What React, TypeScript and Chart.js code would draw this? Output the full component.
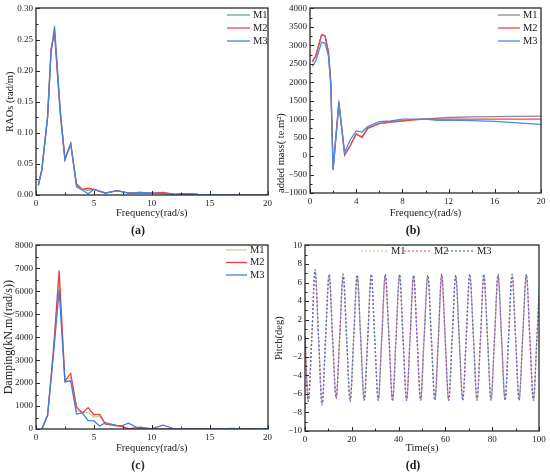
import { useEffect, useRef } from 'react';
import { Chart, ChartConfiguration, registerables } from 'chart.js';

Chart.register(...registerables);

const SERIF = '"Liberation Serif", "Times New Roman", serif';
const INK = '#222';

// (a) RAOs
const freqA = [0.2, 0.5, 1.0, 1.3, 1.6, 2.1, 2.5, 3.0, 3.5, 4.0, 4.5, 5.0, 6.0, 7.0, 8.0, 9.0, 10.0, 11.0, 12.0, 13.0, 14.0, 15.0, 16.0, 17.0, 18.0, 19.0, 20.0];
const raoM1 = [0.016, 0.04, 0.125, 0.232, 0.265, 0.132, 0.058, 0.082, 0.016, 0.009, 0.008, 0.009, 0.003, 0.007, 0.003, 0.004, 0.003, 0.003, 0.001, 0.002, 0.001, 0.0005, 0.0005, 0.0003, 0.0003, 0.0002, 0.0002];
const raoM2 = [0.016, 0.04, 0.125, 0.235, 0.26, 0.13, 0.057, 0.082, 0.018, 0.009, 0.011, 0.009, 0.003, 0.007, 0.003, 0.003, 0.003, 0.004, 0.001, 0.002, 0.001, 0.0005, 0.0005, 0.0003, 0.0003, 0.0002, 0.0002];
const raoM3 = [0.015, 0.04, 0.125, 0.228, 0.271, 0.135, 0.057, 0.083, 0.013, 0.008, 0.002, 0.009, 0.003, 0.007, 0.003, 0.004, 0.003, 0.002, 0.001, 0.002, 0.001, 0.0005, 0.0005, 0.0003, 0.0003, 0.0002, 0.0002];

// (b) added mass
const freqB = [0.2, 0.5, 1.0, 1.3, 1.6, 1.8, 2.0, 2.5, 3.0, 3.5, 4.0, 4.5, 5.0, 6.0, 7.0, 8.0, 9.0, 10.0, 11.0, 12.0, 14.0, 16.0, 18.0, 20.0];
const massM1 = [2550, 2700, 3280, 3250, 2800, 2000, -350, 1450, 30, 300, 600, 520, 760, 880, 930, 960, 990, 1010, 1030, 1045, 1060, 1070, 1075, 1080];
const massM2 = [2560, 2720, 3290, 3260, 2820, 2000, -360, 1480, 30, 290, 600, 500, 750, 880, 920, 950, 980, 1000, 1000, 1000, 1000, 1000, 1000, 1000];
const massM3 = [2430, 2580, 3080, 3060, 2700, 1900, -380, 1400, 100, 450, 680, 650, 800, 930, 950, 1000, 1000, 1000, 970, 975, 960, 940, 900, 860];

// (c) damping
const freqC = [0.5, 1.0, 1.5, 2.0, 2.5, 3.0, 3.5, 4.0, 4.5, 5.0, 5.5, 6.0, 7.0, 7.5, 8.0, 9.0, 10.0, 11.0, 12.0, 13.0, 14.0, 15.0, 16.0, 17.0, 18.0, 19.0, 20.0];
const dampM1 = [0, 600, 3300, 6500, 2080, 2250, 820, 720, 720, 520, 560, 220, 130, 90, 20, 50, 0, 20, 0, 0, 0, 0, 0, 0, 0, 0, 0];
const dampM2 = [0, 600, 3400, 6900, 2100, 2420, 960, 700, 930, 620, 640, 210, 150, 100, 10, 80, 0, 0, 0, 0, 0, 0, 0, 0, 0, 0, 0];
const dampM3 = [0, 600, 3200, 6050, 2050, 2100, 650, 700, 380, 350, 130, 280, 150, 160, 250, 0, 20, 170, 0, 0, 0, 0, 0, 25, 5, 5, 20];

// (d) pitch time history: start, then trough / zero / peak / zero per cycle
const timeD = [
  0, 1.4, 2.9, 4.3, 5.8,
  7.3, 8.8, 10.3, 11.8,
  13.3, 14.8, 16.3, 17.8,
  19.3, 20.8, 22.3, 23.8,
  25.3, 26.8, 28.3, 29.8,
  31.3, 32.8, 34.3, 35.9,
  37.4, 38.9, 40.4, 41.9,
  43.4, 44.9, 46.4, 47.9,
  49.4, 50.9, 52.5, 54.0,
  55.5, 57.0, 58.4, 59.9,
  61.4, 62.9, 64.4, 65.9,
  67.4, 68.9, 70.4, 72.0,
  73.5, 75.0, 76.4, 78.0,
  79.5, 81.0, 82.5, 84.0,
  85.5, 87.0, 88.5, 90.0,
  91.5, 93.0, 94.6, 96.1,
  97.6, 99.1, 100,
];
const pitchM1 = [
  0.2, -6.8, 0, 7.3, 0,
  -7.1, 0, 6.8, 0,
  -6.4, 0, 6.8, 0,
  -6.7, 0, 6.7, 0,
  -6.6, 0, 6.8, 0,
  -6.6, 0, 6.8, 0,
  -6.7, 0, 6.8, 0,
  -6.6, 0, 6.7, 0,
  -6.6, 0, 6.7, 0,
  -6.6, 0, 6.8, 0,
  -6.6, 0, 6.7, 0,
  -6.6, 0, 6.8, 0,
  -6.6, 0, 6.8, 0,
  -6.6, 0, 6.8, 0,
  -6.6, 0, 6.8, 0,
  -6.6, 0, 6.8, 0,
  -6.6, 0, 4.6,
];
const pitchM2 = [
  0.2, -6.7, 0, 7.2, 0,
  -7.0, 0, 6.7, 0,
  -6.4, 0, 6.7, 0,
  -6.6, 0, 6.7, 0,
  -6.6, 0, 6.7, 0,
  -6.6, 0, 6.7, 0,
  -6.6, 0, 6.7, 0,
  -6.6, 0, 6.7, 0,
  -6.6, 0, 6.7, 0,
  -6.6, 0, 6.7, 0,
  -6.6, 0, 6.7, 0,
  -6.6, 0, 6.7, 0,
  -6.6, 0, 6.7, 0,
  -6.6, 0, 6.7, 0,
  -6.6, 0, 6.7, 0,
  -6.6, 0, 6.7, 0,
  -6.6, 0, 4.5,
];
const pitchM3 = [
  0.3, -6.8, 0, 7.4, 0,
  -7.2, 0, 6.9, 0,
  -6.5, 0, 6.9, 0,
  -6.8, 0, 6.8, 0,
  -6.7, 0, 6.9, 0,
  -6.7, 0, 6.9, 0,
  -6.8, 0, 6.9, 0,
  -6.7, 0, 6.8, 0,
  -6.7, 0, 6.8, 0,
  -6.7, 0, 6.9, 0,
  -6.7, 0, 6.8, 0,
  -6.7, 0, 6.9, 0,
  -6.7, 0, 6.9, 0,
  -6.7, 0, 6.9, 0,
  -6.7, 0, 6.9, 0,
  -6.7, 0, 6.9, 0,
  -6.7, 0, 4.8,
];

const pts = (xs: number[], ys: number[]) => xs.map((x, i) => ({ x, y: ys[i] }));
const minus = (v: number) => (v < 0 ? '\u2212' + Math.abs(v) : String(v));

type Spec = {
  w: number;
  h: number;
  yWidth: number;
  xHeight: number;
  padTop: number;
  padRight: number;
  xMax: number;
  xStep: number;
  xTitle: string;
  xTitlePad: number;
  yMin: number;
  yMax: number;
  yStep: number;
  yTitle: string;
  yTitleSize: number;
  yTitlePad: number;
  yAlign: 'start' | 'center' | 'end';
  yFmt: (v: number) => string;
  series: { label: string; data: { x: number; y: number }[]; color: string }[];
  dotted?: boolean;
  legend: { x: number; y: number; len: number; step: number; row: boolean };
  tag: string;
  tagY: number;
};

// box, inward ticks, legend and panel letter
const frame = (s: Spec) => ({
  id: 'frame',
  afterDraw(chart: Chart) {
    const { ctx, chartArea: a } = chart;
    const xs = chart.scales.x;
    const ys = chart.scales.y;
    const L = Math.round(a.left);
    const R = Math.round(a.right);
    const T = Math.round(a.top);
    const B = Math.round(a.bottom);

    ctx.save();
    ctx.strokeStyle = '#2a2a2a';
    ctx.lineWidth = 1.3;
    ctx.strokeRect(L, T, R - L, B - T);

    ctx.lineWidth = 1;
    ctx.beginPath();
    const xv = xs.ticks.map((t) => t.value);
    xv.forEach((v, i) => {
      const p = Math.round(xs.getPixelForValue(v)) + 0.5;
      ctx.moveTo(p, B);
      ctx.lineTo(p, B - 4);
      if (i < xv.length - 1) {
        const m = Math.round(xs.getPixelForValue((v + xv[i + 1]) / 2)) + 0.5;
        ctx.moveTo(m, B);
        ctx.lineTo(m, B - 2.5);
      }
    });
    const yv = ys.ticks.map((t) => t.value);
    yv.forEach((v, i) => {
      const p = Math.round(ys.getPixelForValue(v)) + 0.5;
      ctx.moveTo(L, p);
      ctx.lineTo(L + 4, p);
      if (i < yv.length - 1) {
        const m = Math.round(ys.getPixelForValue((v + yv[i + 1]) / 2)) + 0.5;
        ctx.moveTo(L, m);
        ctx.lineTo(L + 2.5, m);
      }
    });
    ctx.stroke();

    const lg = s.legend;
    ctx.font = `10.5px ${SERIF}`;
    ctx.textAlign = 'left';
    ctx.textBaseline = 'middle';
    let x = lg.x;
    let y = lg.y;
    chart.data.datasets.forEach((d: any) => {
      ctx.beginPath();
      ctx.strokeStyle = d.borderColor;
      ctx.lineWidth = d.borderWidth;
      ctx.setLineDash(d.borderDash || []);
      ctx.moveTo(x, y);
      ctx.lineTo(x + lg.len, y);
      ctx.stroke();
      ctx.setLineDash([]);
      ctx.fillStyle = INK;
      ctx.fillText(d.label, x + lg.len + 3, y);
      if (lg.row) x += lg.step;
      else y += lg.step;
    });

    ctx.font = `bold 12px ${SERIF}`;
    ctx.textAlign = 'center';
    ctx.fillText(s.tag, 138, s.tagY);
    ctx.restore();
  },
});

function makeConfig(s: Spec): ChartConfiguration<'line'> {
  const n = s.series.length;
  return {
    type: 'line',
    data: {
      datasets: s.series.map((d, i) => ({
        label: d.label,
        data: d.data,
        borderColor: d.color,
        backgroundColor: d.color,
        borderWidth: 1.3,
        pointRadius: 0,
        fill: false,
        tension: 0,
        cubicInterpolationMode: s.dotted ? 'monotone' : 'default',
        borderDash: s.dotted ? [2, 2] : [],
        borderDashOffset: s.dotted ? i * 1.3 : 0,
        order: n - i,
      })),
    },
    options: {
      animation: false,
      responsive: false,
      events: [],
      layout: { padding: { top: s.padTop, right: s.padRight, left: 0, bottom: 0 } },
      plugins: { legend: { display: false }, tooltip: { enabled: false } },
      scales: {
        x: {
          type: 'linear',
          min: 0,
          max: s.xMax,
          ticks: { stepSize: s.xStep, font: { family: SERIF, size: 9 }, color: INK, padding: 3, maxRotation: 0, autoSkip: false },
          grid: { display: false, drawTicks: false },
          border: { display: false },
          title: { display: true, text: s.xTitle, color: INK, font: { family: SERIF, size: 10.5 }, padding: { top: 0, bottom: s.xTitlePad } },
          afterFit: (sc: any) => {
            sc.height = s.xHeight;
          },
        },
        y: {
          type: 'linear',
          min: s.yMin,
          max: s.yMax,
          ticks: {
            stepSize: s.yStep,
            font: { family: SERIF, size: 9 },
            color: INK,
            padding: 3,
            autoSkip: false,
            callback: (v: any) => s.yFmt(Number(v)),
          },
          grid: { display: false, drawTicks: false },
          border: { display: false },
          title: {
            display: true,
            text: s.yTitle,
            align: s.yAlign,
            color: INK,
            font: { family: SERIF, size: s.yTitleSize },
            padding: { top: s.yTitlePad, bottom: 0 },
          },
          afterFit: (sc: any) => {
            sc.width = s.yWidth;
          },
        },
      },
    },
    plugins: [frame(s)],
  };
}

const specA: Spec = {
  w: 275, h: 237, yWidth: 36, xHeight: 42, padTop: 8, padRight: 6,
  xMax: 20, xStep: 5, xTitle: 'Frequency(rad/s)', xTitlePad: 17,
  yMin: 0, yMax: 0.3, yStep: 0.05, yTitle: 'RAOs (rad/m)', yTitleSize: 10.5, yTitlePad: 4, yAlign: 'center',
  yFmt: (v) => v.toFixed(2),
  series: [
    { label: 'M1', data: pts(freqA, raoM1), color: '#6aa67c' },
    { label: 'M2', data: pts(freqA, raoM2), color: '#e8474a' },
    { label: 'M3', data: pts(freqA, raoM3), color: '#4682e6' },
  ],
  legend: { x: 227, y: 15, len: 23, step: 13, row: false },
  tag: '(a)', tagY: 231,
};

const specB: Spec = {
  w: 275, h: 237, yWidth: 35, xHeight: 44, padTop: 8, padRight: 9,
  xMax: 20, xStep: 4, xTitle: 'Frequency(rad/s)', xTitlePad: 17,
  yMin: -1000, yMax: 4000, yStep: 500, yTitle: 'added mass( te.m\u00b2)', yTitleSize: 10.5, yTitlePad: 0, yAlign: 'start',
  yFmt: minus,
  series: [
    { label: 'M1', data: pts(freqB, massM1), color: '#8a8a8a' },
    { label: 'M2', data: pts(freqB, massM2), color: '#ea4a4a' },
    { label: 'M3', data: pts(freqB, massM3), color: '#4a8ae8' },
  ],
  legend: { x: 223, y: 15, len: 22, step: 13, row: false },
  tag: '(b)', tagY: 231,
};

const specC: Spec = {
  w: 275, h: 238, yWidth: 36, xHeight: 46, padTop: 5, padRight: 6,
  xMax: 20, xStep: 5, xTitle: 'Frequency(rad/s)', xTitlePad: 20,
  yMin: 0, yMax: 8000, yStep: 1000, yTitle: 'Damping(kN.m/(rad/s))', yTitleSize: 12, yTitlePad: 2, yAlign: 'center',
  yFmt: (v) => String(v),
  series: [
    { label: 'M1', data: pts(freqC, dampM1), color: '#cfcca0' },
    { label: 'M2', data: pts(freqC, dampM2), color: '#e84040' },
    { label: 'M3', data: pts(freqC, dampM3), color: '#3f7fe0' },
  ],
  legend: { x: 226, y: 13, len: 21, step: 12.5, row: false },
  tag: '(c)', tagY: 229,
};

const specD: Spec = {
  w: 275, h: 238, yWidth: 30, xHeight: 44, padTop: 5, padRight: 11,
  xMax: 100, xStep: 20, xTitle: 'Time(s)', xTitlePad: 20,
  yMin: -10, yMax: 10, yStep: 2, yTitle: 'Pitch(deg)', yTitleSize: 10.5, yTitlePad: -2, yAlign: 'center',
  yFmt: minus,
  series: [
    { label: 'M1', data: pts(timeD, pitchM1), color: '#d8d2a0' },
    { label: 'M2', data: pts(timeD, pitchM2), color: '#f07a7a' },
    { label: 'M3', data: pts(timeD, pitchM3), color: '#4f73d8' },
  ],
  dotted: true,
  legend: { x: 86, y: 14, len: 27, step: 43, row: true },
  tag: '(d)', tagY: 229,
};

function Panel({ spec, left, top }: { spec: Spec; left: number; top: number }) {
  const ref = useRef<HTMLCanvasElement | null>(null);

  useEffect(() => {
    if (!ref.current) return;
    const chart = new Chart(ref.current, makeConfig(spec));
    return () => {
      chart.destroy();
    };
  }, []);

  return (
    <canvas
      ref={ref}
      width={spec.w}
      height={spec.h}
      style={{ position: 'absolute', left, top, width: spec.w, height: spec.h }}
    />
  );
}

export default function App() {
  return (
    <div style={{ position: 'absolute', left: 0, top: 0, width: 550, height: 475, background: '#fff', overflow: 'hidden' }}>
      <Panel spec={specA} left={0} top={0} />
      <Panel spec={specB} left={275} top={0} />
      <Panel spec={specC} left={0} top={237} />
      <Panel spec={specD} left={275} top={237} />
    </div>
  );
}
